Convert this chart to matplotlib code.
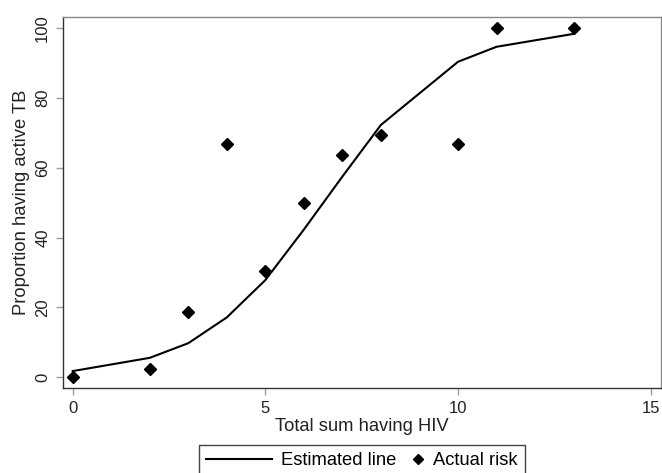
import numpy as np
import matplotlib
matplotlib.use("Agg")
import matplotlib.pyplot as plt
from matplotlib.lines import Line2D
from matplotlib.legend_handler import HandlerLine2D

plt.rcParams['font.family'] = ['Liberation Sans', 'DejaVu Sans']

# values
hiv_total = [0, 2, 3, 4, 5, 6, 7, 8, 10, 11, 13]
estimated = [1.7, 5.5, 9.7, 17.1, 27.8, 42.3, 57.5, 72.3, 90.4, 94.7, 98.4]
actual = [0, 2.2, 18.7, 66.7, 30.4, 50.0, 63.6, 69.4, 66.7, 100, 100]
x_ticks = [0, 5, 10, 15]
y_ticks = [0, 20, 40, 60, 80, 100]


class RightMarker(HandlerLine2D):
    # put the diamond at the right end of the handle box, like stata does
    def create_artists(self, legend, orig_handle, xdescent, ydescent,
                       width, height, fontsize, trans):
        x = width - xdescent - 0.35 * fontsize
        y = (height - ydescent) / 2
        m = Line2D([x], [y])
        self.update_prop(m, orig_handle, legend)
        m.set_linestyle('none')
        m.set_markersize(m.get_markersize() * legend.markerscale)
        m.set_transform(trans)
        return [m]


fig = plt.figure(figsize=(6.62, 4.73), dpi=100)
ax = fig.add_axes([0.0947, 0.1797, 0.9033, 0.7837])

line, = ax.plot(hiv_total, estimated, color='black', lw=1.5, label='Estimated line')
pts, = ax.plot(hiv_total, actual, 'D', color='black', ms=6.4, ls='none', label='Actual risk')

ax.set_xlim(-0.26, 15.26)
ax.set_ylim(-3.15, 103.15)
ax.set_xticks(x_ticks)
ax.set_yticks(y_ticks)
ax.tick_params(length=5, width=1, color='#a0a0a0', labelsize=12, labelcolor='#222222', pad=4)
ax.tick_params(axis='y', labelrotation=90)
for lab in ax.get_yticklabels():
    lab.set_va('center')

for s in ['left', 'bottom']:
    ax.spines[s].set_color('#333333')
for s in ['top', 'right']:
    ax.spines[s].set_color('#888888')
for s in ax.spines.values():
    s.set_linewidth(1)

ax.set_xlabel('Total sum having HIV', fontsize=13.2, color='#222222')
ax.set_ylabel('Proportion having active TB', fontsize=13.2, color='#222222')
ax.xaxis.set_label_coords(0.5, -0.08)
ax.yaxis.set_label_coords(-0.055, 0.5)

leg = fig.legend([line, pts], ['Estimated line', 'Actual risk'],
                 handler_map={pts: RightMarker()},
                 loc='upper center', bbox_to_anchor=(362 / 662, 1 - 445 / 473),
                 ncol=2, fontsize=13.2, handlelength=3.6, handletextpad=0.5,
                 columnspacing=-2.1, borderpad=0.4, borderaxespad=0, markerscale=0.75,
                 fancybox=False, frameon=True, framealpha=1, edgecolor='#444444')
leg.get_frame().set_linewidth(1)

fig.savefig('out.png', dpi=100)
